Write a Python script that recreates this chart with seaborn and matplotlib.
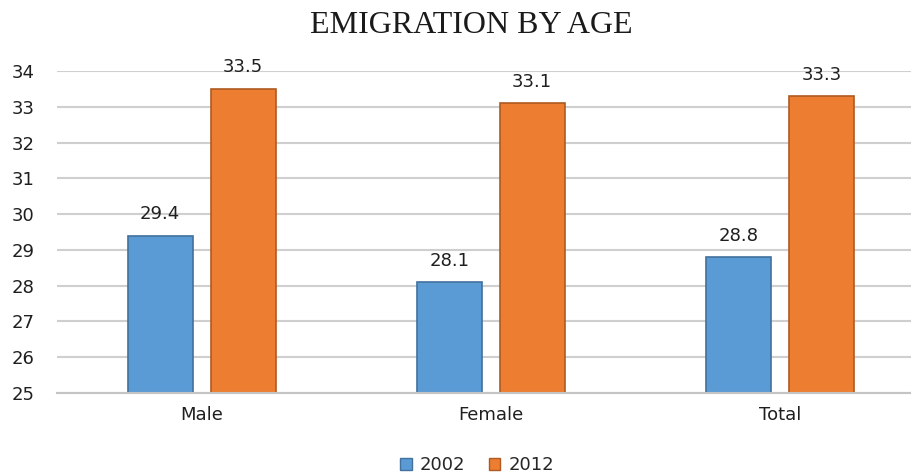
import matplotlib
matplotlib.use("Agg")
import matplotlib.pyplot as plt
import seaborn as sns
import pandas as pd

categories = ["Male", "Female", "Total"]
years = ["2002", "2012"]
values_2002 = [29.4, 28.1, 28.8]
values_2012 = [33.5, 33.1, 33.3]
y_ticks = [25, 26, 27, 28, 29, 30, 31, 32, 33, 34]

fill_colors = {"2002": "#5B9BD5", "2012": "#ED7D31"}
edge_colors = {"2002": "#41719C", "2012": "#AE5A21"}

df = pd.DataFrame({
    "group": categories * 2,
    "year": [years[0]] * 3 + [years[1]] * 3,
    "age": values_2002 + values_2012,
})

sns.set_theme(style="white")
plt.rcParams["font.family"] = ["DejaVu Sans"]

fig = plt.figure(figsize=(9.12, 4.74), dpi=100)
ax = fig.add_axes([57 / 912, 81 / 474, 867.5 / 912, 322 / 474])

sns.barplot(data=df, x="group", y="age", hue="year", order=categories,
            hue_order=years, palette=fill_colors, saturation=1,
            width=0.574, gap=0.217, linewidth=1.2, ax=ax, legend=False)

for container, yr in zip(ax.containers, years):
    for patch in container:
        patch.set_edgecolor(edge_colors[yr])
    ax.bar_label(container, fmt="%.1f", padding=9, fontsize=13, color="#1f1f1f")

ax.set_xlim(-0.5, 2.5)
ax.set_ylim(25, 34)
ax.set_yticks(y_ticks)
ax.yaxis.grid(True, color="#CFCFCF", linewidth=1.5)
ax.set_axisbelow(True)
for side in ["top", "right", "left"]:
    ax.spines[side].set_visible(False)
ax.spines["bottom"].set_color("#C4C4C4")
ax.spines["bottom"].set_linewidth(1.5)
ax.tick_params(axis="both", length=0, labelsize=13, colors="#1f1f1f")
ax.tick_params(axis="x", pad=9)
ax.tick_params(axis="y", pad=16)
ax.set_xlabel("")
ax.set_ylabel("")

fig.text(0.517, 0.947, "EMIGRATION BY AGE", ha="center", va="center",
         fontsize=23, family="Liberation Serif", color="#1a1a1a")

handles = [plt.Rectangle((0, 0), 1, 1, facecolor=fill_colors[y],
                         edgecolor=edge_colors[y], linewidth=1) for y in years]
fig.legend(handles, years, loc="center", bbox_to_anchor=(0.523, 0.019),
           ncol=2, frameon=False, fontsize=13, handlelength=0.65,
           handleheight=0.65, handletextpad=0.45, columnspacing=1.3)

fig.savefig("out.png", dpi=100)
